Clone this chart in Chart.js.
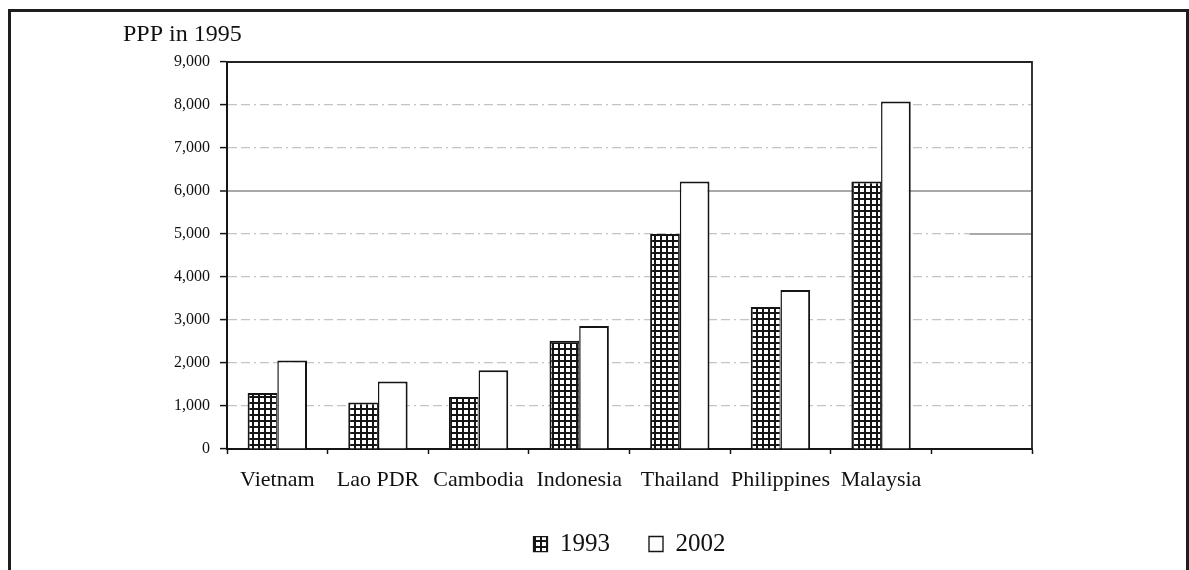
<!DOCTYPE html>
<html>
<head>
<meta charset="utf-8">
<script src="https://cdn.jsdelivr.net/npm/chart.js@4/dist/chart.umd.min.js"></script>
<style>
  html, body { margin: 0; padding: 0; background: #fff; overflow: hidden; }
  #wrap { position: relative; width: 1189px; height: 570px; }
  #frame {
    position: absolute; left: 8px; top: 9px; width: 1175px; height: 640px;
    border: 3px solid #1e1e1e; pointer-events: none;
  }
  canvas { position: absolute; left: 0; top: 0; }
</style>
</head>
<body>
<div id="wrap">
  <canvas id="chart" width="1189" height="570"></canvas>
  <div id="frame"></div>
</div>
<script>
// GDP per capita (PPP, 1995 prices) by country, 1993 vs 2002
const categories = ['Vietnam', 'Lao PDR', 'Cambodia', 'Indonesia', 'Thailand', 'Philippines', 'Malaysia', ''];
const ppp1993 = [1300, 1080, 1210, 2520, 5000, 3300, 6220, null];
const ppp2002 = [2060, 1570, 1830, 2860, 6220, 3700, 8080, null];
const yTickValues = [0, 1000, 2000, 3000, 4000, 5000, 6000, 7000, 8000, 9000];
const seriesNames = ['1993', '2002'];

const SERIF = "'Liberation Serif', 'Times New Roman', serif";
const INK = '#111';

// Cross-hatched fill for the 1993 bars
function gridPattern(ctx) {
  const tile = document.createElement('canvas');
  tile.width = 6; tile.height = 6;
  const t = tile.getContext('2d');
  t.fillStyle = '#fff';
  t.fillRect(0, 0, 6, 6);
  t.fillStyle = '#151515';
  t.fillRect(0, 0, 6, 2);
  t.fillRect(0, 0, 2, 6);
  return ctx.createPattern(tile, 'repeat');
}

// Box around the plot area plus the short solid stroke on the 5,000 line
const plotFrame = {
  id: 'plotFrame',
  beforeDatasetsDraw(chart) {
    const { ctx, chartArea: a, scales: { x, y } } = chart;
    const yy = Math.round(y.getPixelForValue(5000));
    ctx.save();
    ctx.strokeStyle = '#a8a8a8';
    ctx.lineWidth = 2;
    ctx.beginPath();
    ctx.moveTo(x.getPixelForValue(7) - 12, yy);
    ctx.lineTo(a.right, yy);
    ctx.stroke();
    ctx.restore();
  },
  afterDraw(chart) {
    const { ctx, chartArea: a } = chart;
    ctx.save();
    ctx.strokeStyle = '#222';
    ctx.lineWidth = 1.8;
    ctx.beginPath();
    ctx.moveTo(a.left, a.top);
    ctx.lineTo(a.right, a.top);
    ctx.lineTo(a.right, a.bottom);
    ctx.stroke();
    ctx.restore();
  }
};

const ctx = document.getElementById('chart').getContext('2d');
const hatch = gridPattern(ctx);

new Chart(ctx, {
  type: 'bar',
  data: {
    labels: categories,
    datasets: [
      {
        label: seriesNames[0],
        data: ppp1993,
        backgroundColor: hatch,
        borderColor: '#151515',
        borderWidth: { left: 2, top: 2, right: 1, bottom: 0 },
        borderSkipped: false
      },
      {
        label: seriesNames[1],
        data: ppp2002,
        backgroundColor: '#ffffff',
        borderColor: '#151515',
        borderWidth: { left: 1.5, top: 2, right: 2, bottom: 0 },
        borderSkipped: false
      }
    ]
  },
  options: {
    responsive: false,
    animation: false,
    events: [],
    categoryPercentage: 0.59,
    barPercentage: 1.0,
    layout: { padding: { left: 123, right: 157, top: 20, bottom: 3.5 } },
    plugins: {
      tooltip: { enabled: false },
      title: {
        display: true,
        text: 'PPP in 1995',
        align: 'start',
        color: INK,
        font: { family: SERIF, size: 24, weight: 'normal', lineHeight: 1.2 },
        padding: { top: 0, bottom: 13.2 }
      },
      legend: {
        position: 'bottom',
        fullSize: false,
        labels: {
          color: INK,
          font: { family: SERIF, size: 25 },
          boxWidth: 14,
          boxHeight: 15,
          padding: 39
        }
      }
    },
    scales: {
      x: {
        afterFit(s) { s.height = 43.5; },
        grid: {
          offset: true,
          drawOnChartArea: false,
          drawTicks: true,
          tickLength: 5,
          tickColor: '#151515',
          tickWidth: 1.5
        },
        border: { display: true, color: '#151515', width: 2 },
        ticks: {
          color: INK,
          padding: 13,
          maxRotation: 0,
          autoSkip: false,
          font: { family: SERIF, size: 22 }
        }
      },
      y: {
        min: 0,
        max: 9000,
        afterFit(s) { s.width = 104; },
        afterBuildTicks(s) { s.ticks = yTickValues.map(v => ({ value: v })); },
        grid: {
          drawTicks: true,
          tickLength: 7,
          tickColor: '#151515',
          tickWidth: 1.5,
          tickBorderDash: [],
          color(c) {
            const v = c.tick ? c.tick.value : null;
            if (v === 0 || v === 9000) return 'rgba(0,0,0,0)';
            return v === 6000 ? '#a8a8a8' : '#c4c4c4';
          },
          lineWidth(c) {
            return c.tick && c.tick.value === 6000 ? 2 : 1.2;
          }
        },
        border: {
          display: true,
          color: '#151515',
          width: 2,
          dash(c) {
            return c.tick && c.tick.value === 6000 ? [] : [9, 4, 9, 4, 2, 4];
          }
        },
        ticks: {
          color: INK,
          padding: 10,
          font: { family: SERIF, size: 16 },
          callback: v => v.toLocaleString('en-US')
        }
      }
    }
  },
  plugins: [plotFrame]
});
</script>
</body>
</html>
